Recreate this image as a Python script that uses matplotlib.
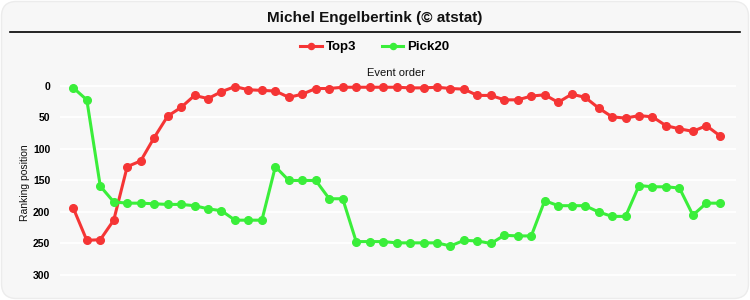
import matplotlib
matplotlib.use("Agg")
import matplotlib.pyplot as plt
from matplotlib.patches import FancyBboxPatch
from matplotlib.lines import Line2D

title = "Michel Engelbertink (© atstat)"
series_names = ["Top3", "Pick20"]
top3 = [194, 245, 244, 213, 128, 119, 82, 48, 34, 15, 20, 9, 1, 6, 7, 8, 18, 13,
        4, 4, 2, 2, 2, 2, 2, 3, 3, 2, 4, 5, 15, 15, 22, 22, 16, 14, 26, 13, 18,
        35, 49, 51, 47, 49, 63, 68, 72, 63, 79]
pick20 = [3, 22, 159, 184, 186, 186, 187, 188, 188, 190, 195, 198, 213, 213, 213,
          128, 150, 150, 150, 179, 179, 247, 247, 247, 249, 249, 249, 249, 254,
          245, 246, 250, 237, 238, 238, 182, 190, 190, 190, 200, 207, 207, 158,
          160, 160, 162, 205, 186, 186]
yticks = [0, 50, 100, 150, 200, 250, 300]

plt.rcParams['font.family'] = ['Liberation Sans', 'DejaVu Sans']

W, H = 750, 300
fig = plt.figure(figsize=(7.5, 3.0), dpi=100, facecolor='white')

bg = FancyBboxPatch((1.5 / W, 1.5 / H), (W - 3) / W, (H - 3) / H,
                    boxstyle="round,pad=0,rounding_size=0.02",
                    transform=fig.transFigure, facecolor='#f7f7f7',
                    edgecolor='#ececec', linewidth=1, mutation_aspect=W / H,
                    zorder=-10)
fig.patches.append(bg)

fig.text(0.5, 1 - 18 / H, title, ha='center', va='center', fontsize=11,
         fontweight='bold', color='#111111')
fig.add_artist(Line2D([10 / W, 740 / W], [1 - 31.5 / H, 1 - 31.5 / H],
                      transform=fig.transFigure, color='black', lw=1.2))

ax = fig.add_axes([60 / W, 15 / H, (736 - 60) / W, (285 - 80) / H])
ax.set_facecolor('none')
x = list(range(len(top3)))
red = '#f53535'
green = '#3aee3a'
l1, = ax.plot(x, top3, color=red, lw=2.2, marker='o', ms=5.5, label=series_names[0])
l2, = ax.plot(x, pick20, color=green, lw=2.2, marker='o', ms=5.5, label=series_names[1])

ax.set_xlim(-0.99, 49.2)
ax.set_ylim(315.9, -9.5)
ax.set_yticks(yticks)
ax.set_yticklabels([str(v) for v in yticks], fontsize=7.5, fontweight='bold')
ax.set_xticks([])
ax.tick_params(axis='y', length=0, pad=7)
for s in ax.spines.values():
    s.set_visible(False)
ax.grid(axis='y', color='white', lw=1.3)
ax.set_axisbelow(True)

fig.text(396 / W, 1 - 73 / H, "Event order", ha='center', va='center',
         fontsize=8, color='#111111')
fig.text(25 / W, 1 - 183 / H, "Ranking position", ha='center', va='center',
         fontsize=7.5, rotation=90, color='#111111')

leg = fig.legend(handles=[l1, l2], loc='center', bbox_to_anchor=(0.5, 1 - 47 / H),
                 ncol=2, frameon=False, prop={'size': 9.5, 'weight': 'bold'},
                 handlelength=1.6, handletextpad=0.3, columnspacing=2.0,
                 markerscale=0.8)

fig.savefig("out.png", dpi=100, facecolor='white')
